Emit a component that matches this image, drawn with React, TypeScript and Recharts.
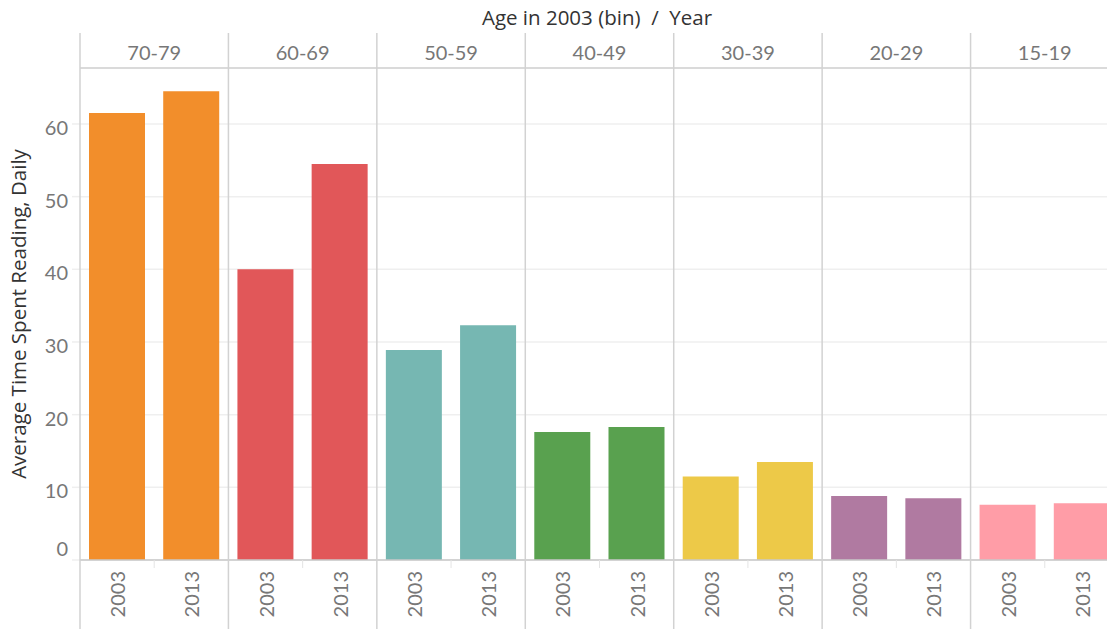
import React from 'react';
import { BarChart, Bar, XAxis, YAxis, CartesianGrid, Cell } from 'recharts';

const groups = ['70-79', '60-69', '50-59', '40-49', '30-39', '20-29', '15-19'];
const years = ['2003', '2013'];
const values2003 = [61.5, 40.0, 28.9, 17.6, 11.5, 8.8, 7.6];
const values2013 = [64.5, 54.5, 32.3, 18.3, 13.5, 8.5, 7.8];
const groupColors = ['#F28E2B', '#E15759', '#76B7B2', '#59A14F', '#EDC948', '#B07AA1', '#FF9DA7'];
const yTicks = [0, 10, 20, 30, 40, 50, 60];

const title = 'Age in 2003 (bin)  /  Year';
const yLabel = 'Average Time Spent Reading, Daily';

const data = groups.flatMap((g, gi) =>
  years.map((y) => ({
    key: `${g}|${y}`,
    group: g,
    year: y,
    value: y === '2003' ? values2003[gi] : values2013[gi],
    color: groupColors[gi],
  }))
);

const CHART_W = 1119;
const CHART_H = 629;
const PLOT_LEFT = 80;
const PLOT_TOP = 68;
const HEADER_TOP = 33;
const PLOT_W = CHART_W - PLOT_LEFT;
const PANEL_W = PLOT_W / groups.length;
const BAND_W = PANEL_W / years.length;

const SEP = '#d2d2d2';
const TICK_FONT = 'Lato, "Open Sans", sans-serif';
const LABEL_FONT = '"Open Sans", "Noto Sans", sans-serif';

const GroupTick = (props: any) => {
  const { x, payload } = props;
  const left = x - PANEL_W / 2;
  return (
    <g>
      <line x1={left} x2={left} y1={HEADER_TOP} y2={CHART_H} stroke={SEP} strokeWidth={1.5} />
      <text
        x={x}
        y={52}
        textAnchor="middle"
        dominantBaseline="central"
        fill="#777"
        fontSize={20}
        fontFamily={TICK_FONT}
      >
        {payload.value}
      </text>
    </g>
  );
};

const YearTick = (props: any) => {
  const { x, payload } = props;
  const yr = String(payload.value).split('|')[1];
  return (
    <g>
      {yr !== years[0] && (
        <line x1={x - BAND_W / 2} x2={x - BAND_W / 2} y1={560} y2={568} stroke="#e4e4e4" strokeWidth={1} />
      )}
      <text
        transform={`translate(${x},571) rotate(-90)`}
        textAnchor="end"
        dominantBaseline="central"
        fill="#777"
        fontSize={20}
        fontFamily={TICK_FONT}
      >
        {yr}
      </text>
    </g>
  );
};

const ValueTick = (props: any) => {
  const { x, y, payload } = props;
  const dy = payload.value === 0 ? -12 : 3;
  return (
    <text
      x={x}
      y={y + dy}
      textAnchor="end"
      dominantBaseline="central"
      fill="#777"
      fontSize={20}
      fontFamily={TICK_FONT}
    >
      {payload.value}
    </text>
  );
};

const YLabel = (props: any) => {
  const vb = props.viewBox || {};
  const cy = (vb.y ?? PLOT_TOP) + (vb.height ?? 0) / 2;
  return (
    <text
      transform={`translate(18,${cy}) rotate(-90)`}
      textAnchor="middle"
      dominantBaseline="central"
      fill="#333"
      fontSize={20.5}
      fontFamily={LABEL_FONT}
    >
      {yLabel}
    </text>
  );
};

export default function App() {
  return (
    <div style={{ position: 'absolute', left: 0, top: 0, width: 1107, height: 629, overflow: 'hidden', background: '#fff' }}>
      <div
        style={{
          position: 'absolute',
          left: PLOT_LEFT,
          width: 1034,
          top: 2,
          textAlign: 'center',
          fontFamily: LABEL_FONT,
          fontSize: 20.5,
          lineHeight: '30px',
          color: '#333',
          whiteSpace: 'pre',
        }}
      >
        {title}
      </div>
      <BarChart
        width={CHART_W}
        height={CHART_H}
        data={data}
        margin={{ top: HEADER_TOP, right: 0, bottom: 0, left: 0 }}
        style={{ position: 'absolute', left: 0, top: 0 }}
      >
        <CartesianGrid horizontal vertical={false} stroke="#efefef" strokeWidth={1.5} />
        <XAxis
          xAxisId="grp"
          orientation="top"
          dataKey="group"
          allowDuplicatedCategory={false}
          height={PLOT_TOP - HEADER_TOP}
          axisLine={{ stroke: SEP, strokeWidth: 1.5 }}
          tickLine={false}
          tick={<GroupTick />}
          interval={0}
        />
        <XAxis
          xAxisId="yr"
          dataKey="key"
          height={69}
          axisLine={{ stroke: '#c8c8c8', strokeWidth: 1.5 }}
          tickLine={false}
          tick={<YearTick />}
          interval={0}
        />
        <YAxis
          width={PLOT_LEFT}
          domain={[0, 67.7]}
          ticks={yTicks}
          allowDataOverflow
          axisLine={false}
          tickLine={{ stroke: '#efefef', strokeWidth: 1.5 }}
          tickSize={8}
          tickMargin={4}
          tick={<ValueTick />}
          label={<YLabel />}
        />
        <Bar dataKey="value" xAxisId="yr" barSize={56} isAnimationActive={false}>
          {data.map((d) => (
            <Cell key={d.key} fill={d.color} />
          ))}
        </Bar>
      </BarChart>
    </div>
  );
}
